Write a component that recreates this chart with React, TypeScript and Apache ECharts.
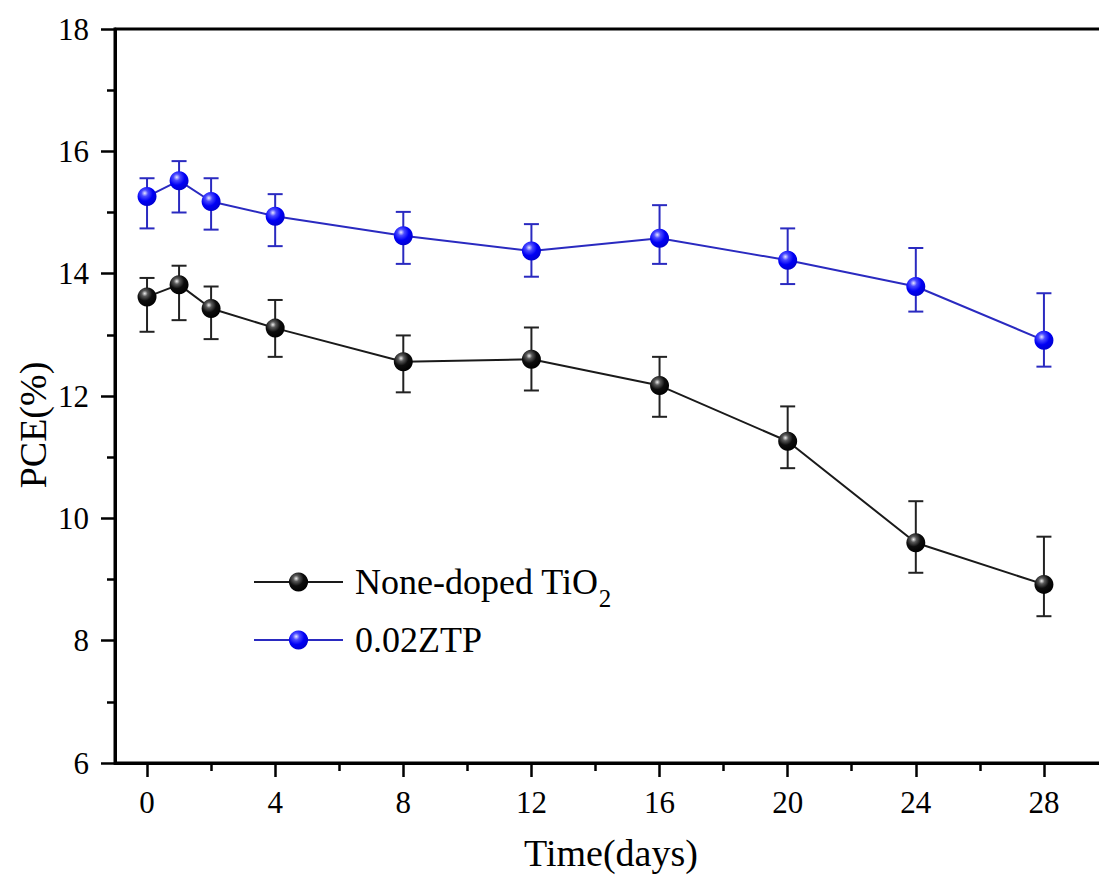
import React, { useEffect, useRef } from 'react';
import * as echarts from 'echarts';

const days = [0, 1, 2, 4, 8, 12, 16, 20, 24, 28];
const noneDoped = [13.62, 13.82, 13.43, 13.11, 12.56, 12.6, 12.17, 11.26, 9.6, 8.92];
const noneDopedHigh = [13.93, 14.13, 13.79, 13.57, 12.99, 13.12, 12.64, 11.83, 10.28, 9.7];
const noneDopedLow = [13.05, 13.24, 12.93, 12.64, 12.06, 12.09, 11.66, 10.82, 9.11, 8.4];
const ztp = [15.26, 15.52, 15.18, 14.94, 14.62, 14.37, 14.58, 14.22, 13.79, 12.91];
const ztpHigh = [15.56, 15.84, 15.56, 15.3, 15.01, 14.81, 15.12, 14.74, 14.42, 13.68];
const ztpLow = [14.74, 15.0, 14.72, 14.45, 14.16, 13.95, 14.16, 13.83, 13.38, 12.48];

const xMajorTicks = [0, 4, 8, 12, 16, 20, 24, 28];
const xMinorTicks = [2, 6, 10, 14, 18, 22, 26];
const seriesNames = ['None-doped TiO2', '0.02ZTP'];
const xAxisTitle = 'Time(days)';
const yAxisTitle = 'PCE(%)';

const FONT = '"Liberation Serif", "Times New Roman", serif';

export default function App() {
  const ref = useRef<HTMLDivElement>(null);

  useEffect(() => {
    const chart = echarts.init(ref.current!, null, { renderer: 'svg' });

    const blackBall = new echarts.graphic.RadialGradient(0.38, 0.32, 0.7, [
      { offset: 0, color: '#eeeeee' },
      { offset: 0.22, color: '#5a5a5a' },
      { offset: 0.55, color: '#0d0d0d' },
      { offset: 1, color: '#000' },
    ]);
    const blueBall = new echarts.graphic.RadialGradient(0.38, 0.32, 0.7, [
      { offset: 0, color: '#e6e6ff' },
      { offset: 0.25, color: '#4a4aff' },
      { offset: 0.6, color: '#0000f5' },
      { offset: 1, color: '#0000d0' },
    ]);

    const blackColor = '#1a1a1a';
    const blueColor = '#2a2ac0';

    const errRender = (color: string) => (params: any, api: any) => {
      const x = api.value(0);
      const lo = api.value(1);
      const hi = api.value(2);
      const pHi = api.coord([x, hi]);
      const pLo = api.coord([x, lo]);
      const w = 7.5;
      const style = { stroke: color, lineWidth: 2 };
      return {
        type: 'group',
        children: [
          { type: 'line', shape: { x1: pHi[0], y1: pHi[1], x2: pLo[0], y2: pLo[1] }, style },
          { type: 'line', shape: { x1: pHi[0] - w, y1: pHi[1], x2: pHi[0] + w, y2: pHi[1] }, style },
          { type: 'line', shape: { x1: pLo[0] - w, y1: pLo[1], x2: pLo[0] + w, y2: pLo[1] }, style },
        ],
      };
    };

    const legendText = {
      fontSize: 36,
      fontFamily: FONT,
      color: '#000',
      padding: [0, 0, 0, 7],
      rich: {
        sub: { fontSize: 25, fontFamily: FONT, color: '#000', padding: [33, 0, 0, 0] },
      },
    };
    const legendFormatter = (name: string) =>
      name === 'None-doped TiO2' ? 'None-doped TiO{sub|2}' : name;

    const option: any = {
      animation: false,
      backgroundColor: '#fff',
      grid: {
        left: 115,
        top: 29,
        bottom: 116,
        right: -9,
        show: true,
        borderColor: '#000',
        borderWidth: 3,
        containLabel: false,
        outerBoundsMode: 'none',
      },
      legend: [
        {
          data: [seriesNames[0]],
          left: 253,
          top: 564,
          padding: 0,
          itemWidth: 89,
          itemHeight: 24,
          textStyle: legendText,
          formatter: legendFormatter,
        },
        {
          data: [seriesNames[1]],
          left: 253,
          top: 622,
          padding: 0,
          itemWidth: 89,
          itemHeight: 24,
          textStyle: legendText,
          formatter: legendFormatter,
        },
      ],
      xAxis: [
        {
          type: 'value',
          position: 'bottom',
          min: -1,
          max: 30,
          axisLine: { onZero: false, lineStyle: { color: '#000', width: 3 } },
          axisTick: {
            show: true,
            customValues: xMajorTicks,
            length: 14,
            lineStyle: { color: '#000', width: 2.5 },
          },
          axisLabel: {
            customValues: xMajorTicks,
            fontSize: 31,
            fontFamily: FONT,
            color: '#000',
            margin: 24,
          },
          splitLine: { show: false },
        },
        {
          type: 'value',
          position: 'bottom',
          min: -1,
          max: 30,
          axisLine: { show: false, onZero: false },
          axisTick: {
            show: true,
            customValues: xMinorTicks,
            length: 8,
            lineStyle: { color: '#000', width: 2.5 },
          },
          axisLabel: { show: false },
          splitLine: { show: false },
        },
      ],
      yAxis: {
        type: 'value',
        position: 'left',
        min: 6,
        max: 18,
        interval: 2,
        axisLine: { show: true, onZero: false, lineStyle: { color: '#000', width: 3 } },
        axisTick: { show: true, length: 14, lineStyle: { color: '#000', width: 2.5 } },
        minorTick: { show: true, splitNumber: 2, length: 8, lineStyle: { color: '#000', width: 2.5 } },
        axisLabel: { fontSize: 31, fontFamily: FONT, color: '#000', margin: 26 },
        splitLine: { show: false },
        minorSplitLine: { show: false },
      },
      graphic: [
        {
          type: 'text',
          x: 33,
          y: 425,
          rotation: Math.PI / 2,
          style: {
            text: yAxisTitle,
            fontSize: 38,
            fontFamily: FONT,
            fill: '#000',
            align: 'center',
            verticalAlign: 'middle',
          },
        },
        {
          type: 'text',
          x: 611,
          y: 853,
          style: {
            text: xAxisTitle,
            fontSize: 38,
            fontFamily: FONT,
            fill: '#000',
            align: 'center',
            verticalAlign: 'middle',
          },
        },
      ],
      series: [
        {
          type: 'custom',
          name: 'err-none',
          xAxisIndex: 0,
          yAxisIndex: 0,
          z: 1,
          renderItem: errRender('#222'),
          encode: { x: 0, y: [1, 2] },
          data: days.map((d, i) => [d, noneDopedLow[i], noneDopedHigh[i]]),
          silent: true,
        },
        {
          type: 'custom',
          name: 'err-ztp',
          xAxisIndex: 0,
          yAxisIndex: 0,
          z: 1,
          renderItem: errRender(blueColor),
          encode: { x: 0, y: [1, 2] },
          data: days.map((d, i) => [d, ztpLow[i], ztpHigh[i]]),
          silent: true,
        },
        {
          type: 'line',
          name: seriesNames[0],
          xAxisIndex: 0,
          yAxisIndex: 0,
          z: 3,
          data: days.map((d, i) => [d, noneDoped[i]]),
          symbol: 'circle',
          symbolSize: 19,
          lineStyle: { color: blackColor, width: 2 },
          itemStyle: { color: blackBall, borderWidth: 0 },
        },
        {
          type: 'line',
          name: seriesNames[1],
          xAxisIndex: 0,
          yAxisIndex: 0,
          z: 3,
          data: days.map((d, i) => [d, ztp[i]]),
          symbol: 'circle',
          symbolSize: 19,
          lineStyle: { color: blueColor, width: 2 },
          itemStyle: { color: blueBall, borderWidth: 0 },
        },
      ],
    };

    chart.setOption(option);
    return () => chart.dispose();
  }, []);

  return (
    <div
      ref={ref}
      style={{ position: 'fixed', left: 0, top: 0, width: 1099, height: 879, background: '#fff' }}
    />
  );
}
